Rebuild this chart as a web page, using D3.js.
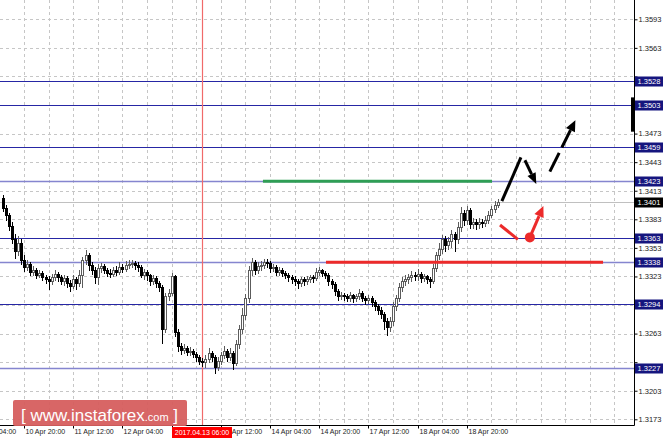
<!DOCTYPE html>
<html><head><meta charset="utf-8">
<script src="https://cdn.jsdelivr.net/npm/d3@7"></script>
<style>body{margin:0;background:#fff}svg{display:block}</style>
</head><body>
<svg id="c" width="664" height="440"></svg>
<script>
// ---------- DATA ----------
const firstOpen = 1.3405;
const closes = [
1.3395,1.3388,1.3376,1.3362,1.3350,1.3358,1.3340,1.3333,1.3336,1.3328,
1.3330,1.3325,1.3327,1.3322,1.3320,1.3318,1.3322,1.3326,1.3322,1.3318,
1.3321,1.3316,1.3313,1.3320,1.3316,1.3324,1.3340,1.3345,1.3335,1.3330,
1.3322,1.3332,1.3334,1.3330,1.3327,1.3326,1.3330,1.3328,1.3333,1.3331,
1.3335,1.3336,1.3337,1.3335,1.3333,1.3325,1.3328,1.3324,1.3318,1.3321,
1.3316,1.3312,1.3268,1.3302,1.3306,1.3323,1.3265,1.3250,1.3246,1.3248,
1.3244,1.3245,1.3242,1.3238,1.3234,1.3233,1.3236,1.3243,1.3238,1.3228,
1.3234,1.3240,1.3245,1.3238,1.3243,1.3232,1.3252,1.3268,1.3282,1.3300,
1.3330,1.3338,1.3330,1.3334,1.3335,1.3338,1.3337,1.3332,1.3333,1.3328,
1.3330,1.3327,1.3325,1.3322,1.3320,1.3318,1.3316,1.3320,1.3318,1.3320,
1.3322,1.3321,1.3328,1.3330,1.3327,1.3325,1.3318,1.3315,1.3308,1.3302,
1.3304,1.3302,1.3300,1.3303,1.3300,1.3302,1.3306,1.3300,1.3298,1.3300,
1.3296,1.3292,1.3288,1.3284,1.3276,1.3270,1.3276,1.3292,1.3300,1.3312,
1.3318,1.3320,1.3322,1.3325,1.3323,1.3326,1.3321,1.3323,1.3320,1.3318,
1.3332,1.3345,1.3352,1.3362,1.3356,1.3360,1.3368,1.3362,1.3375,1.3390,
1.3382,1.3393,1.3378,1.3380,1.3378,1.3380,1.3379,1.3382,1.3388,1.3394,
1.3398,1.3401];
const highs = [
1.3408,1.3398,1.3390,1.3380,1.3368,1.3365,1.3362,1.3345,1.3340,1.3338,
1.3334,1.3332,1.3330,1.3329,1.3325,1.3323,1.3326,1.3330,1.3328,1.3325,
1.3325,1.3323,1.3319,1.3324,1.3322,1.3330,1.3343,1.3351,1.3348,1.3338,
1.3333,1.3336,1.3337,1.3336,1.3332,1.3331,1.3333,1.3334,1.3338,1.3336,
1.3339,1.3340,1.3340,1.3339,1.3338,1.3335,1.3331,1.3330,1.3326,1.3325,
1.3323,1.3318,1.3314,1.3306,1.3310,1.3327,1.3325,1.3268,1.3253,1.3252,
1.3250,1.3249,1.3247,1.3244,1.3240,1.3237,1.3240,1.3248,1.3245,1.3240,
1.3238,1.3244,1.3250,1.3247,1.3248,1.3245,1.3256,1.3272,1.3290,1.3305,
1.3334,1.3342,1.3340,1.3338,1.3339,1.3341,1.3341,1.3339,1.3336,1.3335,
1.3333,1.3332,1.3329,1.3327,1.3325,1.3323,1.3320,1.3322,1.3322,1.3323,
1.3325,1.3324,1.3332,1.3333,1.3331,1.3329,1.3327,1.3320,1.3317,1.3310,
1.3307,1.3306,1.3305,1.3307,1.3305,1.3305,1.3310,1.3308,1.3302,1.3303,
1.3302,1.3298,1.3294,1.3291,1.3286,1.3279,1.3280,1.3296,1.3304,1.3316,
1.3322,1.3324,1.3326,1.3329,1.3328,1.3331,1.3328,1.3326,1.3325,1.3322,
1.3336,1.3349,1.3358,1.3366,1.3365,1.3364,1.3372,1.3370,1.3380,1.3396,
1.3393,1.3397,1.3395,1.3384,1.3383,1.3384,1.3383,1.3386,1.3392,1.3397,
1.3402,1.3404];
const lows = [
1.3392,1.3382,1.3372,1.3358,1.3342,1.3345,1.3336,1.3329,1.3330,1.3325,
1.3324,1.3321,1.3322,1.3319,1.3316,1.3310,1.3315,1.3319,1.3318,1.3315,
1.3314,1.3312,1.3308,1.3311,1.3310,1.3313,1.3312,1.3336,1.3330,1.3326,
1.3316,1.3315,1.3328,1.3327,1.3323,1.3322,1.3323,1.3325,1.3326,1.3328,
1.3329,1.3332,1.3333,1.3331,1.3329,1.3322,1.3320,1.3319,1.3314,1.3315,
1.3312,1.3308,1.3253,1.3265,1.3298,1.3303,1.3260,1.3245,1.3242,1.3243,
1.3240,1.3241,1.3238,1.3234,1.3231,1.3229,1.3228,1.3233,1.3234,1.3222,
1.3225,1.3231,1.3237,1.3234,1.3235,1.3226,1.3230,1.3248,1.3264,1.3278,
1.3296,1.3325,1.3326,1.3327,1.3330,1.3332,1.3333,1.3328,1.3329,1.3324,
1.3325,1.3323,1.3321,1.3318,1.3316,1.3314,1.3311,1.3313,1.3314,1.3315,
1.3317,1.3317,1.3319,1.3325,1.3323,1.3321,1.3314,1.3311,1.3303,1.3298,
1.3299,1.3298,1.3297,1.3297,1.3296,1.3297,1.3299,1.3297,1.3294,1.3295,
1.3292,1.3288,1.3284,1.3279,1.3268,1.3262,1.3266,1.3272,1.3288,1.3297,
1.3308,1.3314,1.3316,1.3318,1.3319,1.3319,1.3317,1.3318,1.3316,1.3312,
1.3316,1.3329,1.3341,1.3348,1.3350,1.3352,1.3354,1.3350,1.3358,1.3371,
1.3377,1.3378,1.3374,1.3374,1.3373,1.3374,1.3375,1.3376,1.3379,1.3385,
1.3391,1.3396];

const priceTicks = ["1.3173","1.3203","1.3233","1.3263","1.3293","1.3323","1.3353","1.3383",
                    "1.3413","1.3443","1.3473","1.3503","1.3533","1.3563","1.3593"];
const timeTickBars = [-9,7,23,39,55,71,87,103,119,135,151];
const timeTickLabels = ["10 Apr 04:00","10 Apr 20:00","11 Apr 12:00","12 Apr 04:00","12 Apr 20:00",
                        "13 Apr 12:00","14 Apr 04:00","14 Apr 20:00","17 Apr 12:00","18 Apr 04:00","18 Apr 20:00"];
const levels = [1.3528, 1.3503, 1.3459, 1.3423, 1.3363, 1.3338, 1.3294, 1.3227];
const softLevels = [1.3423, 1.3338, 1.3227];
const currentPrice = 1.3401;
const markerBar = 65;
const markerLabel = "2017.04.13 06:00";
// annotations in (bar index, price)
const greenSegment = [[84.7, 1.3423],[159.2, 1.3423]];
const redSegment = [[105.2, 1.3338],[195.3, 1.3338]];
const blackUp = [[162.4, 1.3402],[168.6, 1.3448]];
const blackDown = [[169.9, 1.3445],[173.6, 1.3420]];
const blackDashed = [[178.0, 1.3433],[186.3, 1.3487]];
const redDash = [[161.8, 1.3377],[167.6, 1.3362]];
const redDot = [171.5, 1.3364];
const redUp = [[171.5, 1.3364],[175.9, 1.3397]];

// ---------- SCALES ----------
const svg = d3.select("#c");
const plotRight = 634, plotBottom = 425;
const x = d3.scaleLinear().domain([0, 161]).range([2.5, 2.5 + 161 * 3.075]);
const y = d3.scaleLinear().domain([1.3173, 1.3593]).range([419.3, 19.3]);
const FONT = "Liberation Sans, Arial, sans-serif";

svg.append("rect").attr("width",664).attr("height",440).attr("fill","#fff");

svg.append("clipPath").attr("id","plot").append("rect")
  .attr("x",0).attr("y",0).attr("width",plotRight).attr("height",plotBottom);
const g = svg.append("g").attr("clip-path","url(#plot)");

// grid
const hy = v => Math.round(y(+v)) + 0.5;
g.selectAll(".hg").data(priceTicks).join("line")
  .attr("x1",0).attr("x2",plotRight).attr("y1",hy).attr("y2",hy)
  .attr("stroke","#c6c6c6").attr("stroke-dasharray","3,3").attr("stroke-width",1);
const vbars = d3.range(-1, 210, 8);
g.selectAll(".vg").data(vbars).join("line")
  .attr("y1",0).attr("y2",plotBottom)
  .attr("x1",d => Math.round(x(d)) + 0.5).attr("x2",d => Math.round(x(d)) + 0.5)
  .attr("stroke","#c6c6c6").attr("stroke-dasharray","3,3").attr("stroke-width",1);

// current price line
g.append("line").attr("x1",0).attr("x2",plotRight)
  .attr("y1",hy(currentPrice)).attr("y2",hy(currentPrice))
  .attr("stroke","#c0c0c0").attr("stroke-width",1);

// levels
g.selectAll(".lv").data(levels).join("line")
  .attr("x1",0).attr("x2",plotRight).attr("y1",hy).attr("y2",hy)
  .attr("stroke",d => softLevels.includes(d) ? "#8585cf" : "#2626a4")
  .attr("stroke-width",d => softLevels.includes(d) ? 1.5 : 1.2);

// red vertical marker
g.append("line").attr("x1",Math.round(x(markerBar)) + 0.5).attr("x2",Math.round(x(markerBar)) + 0.5)
  .attr("y1",0).attr("y2",plotBottom).attr("stroke","#f06a6a").attr("stroke-width",1.2);

// candles
const bars = closes.map((c,i) => ({i, o: i === 0 ? firstOpen : closes[i-1], c, h: highs[i], l: lows[i]}));
const cg = g.append("g");
bars.forEach(b => {
  const cx = Math.round(x(b.i));
  const bull = b.c >= b.o;
  const col = bull ? "#5c5c5c" : "#000";
  cg.append("line").attr("x1",cx + 0.5).attr("x2",cx + 0.5)
    .attr("y1",Math.round(y(b.h))).attr("y2",Math.round(y(b.l)) + 1)
    .attr("stroke",col).attr("stroke-width",1);
  const top = Math.round(y(Math.max(b.o,b.c)));
  const bot = Math.round(y(Math.min(b.o,b.c)));
  cg.append("rect").attr("x",cx - 0.5).attr("y",top + 0.5)
    .attr("width",2).attr("height",Math.max(0, bot - top))
    .attr("fill",bull ? "#fff" : "#000").attr("stroke",col).attr("stroke-width",1);
});

// annotations
function seg(pts, color, w, dash) {
  const l = g.append("line")
    .attr("x1",x(pts[0][0])).attr("y1",y(pts[0][1]))
    .attr("x2",x(pts[1][0])).attr("y2",y(pts[1][1]))
    .attr("stroke",color).attr("stroke-width",w).attr("stroke-linecap","butt");
  if (dash) l.attr("stroke-dasharray",dash);
  return l;
}
function arrow(pts, color, w, dash, hl, hw) {
  const x1 = x(pts[0][0]), y1 = y(pts[0][1]), x2 = x(pts[1][0]), y2 = y(pts[1][1]);
  const a = Math.atan2(y2 - y1, x2 - x1);
  const bx = x2 - hl * Math.cos(a), by = y2 - hl * Math.sin(a);
  const l = g.append("line").attr("x1",x1).attr("y1",y1).attr("x2",bx).attr("y2",by)
    .attr("stroke",color).attr("stroke-width",w);
  if (dash) l.attr("stroke-dasharray",dash);
  const px = -Math.sin(a) * hw / 2, py = Math.cos(a) * hw / 2;
  g.append("path").attr("d",`M${x2},${y2}L${bx+px},${by+py}L${bx-px},${by-py}Z`).attr("fill",color);
}
seg(greenSegment, "#2f9e55", 3);
seg(redSegment, "#ec2a2a", 3);
seg(blackUp, "#000", 3);
arrow(blackDown, "#000", 3, null, 11, 9);
arrow(blackDashed, "#000", 3, "21,6", 11, 10);
seg(redDash, "#ec2a2a", 3);
arrow(redUp, "#ec2a2a", 3, null, 11, 10);
g.append("circle").attr("cx",x(redDot[0])).attr("cy",y(redDot[1])).attr("r",5).attr("fill","#ec2a2a");

// right-edge bar
svg.append("rect").attr("x",631).attr("y",y(1.3511)).attr("width",3).attr("height",y(1.3475) - y(1.3511)).attr("fill","#000");

// axes
const boxYs = levels.concat([currentPrice]).map(v => y(v));
const hiddenTick = v => boxYs.some(by => Math.abs(by - y(v)) < 6.5);
const yAxis = d3.axisRight(y).tickValues(priceTicks.map(Number)).tickSize(3)
  .tickFormat((d,i) => hiddenTick(d) ? "" : priceTicks[i]);
const ya = svg.append("g").attr("transform",`translate(${plotRight + 0.5},0)`).call(yAxis);
ya.select(".domain").remove();
ya.selectAll("line").attr("stroke","#000");
ya.selectAll("text").attr("x",4).attr("font-family",FONT).attr("font-size",7.5).attr("fill","#222");
svg.append("line").attr("x1",plotRight + 0.5).attr("x2",plotRight + 0.5).attr("y1",0).attr("y2",plotBottom + 0.5)
  .attr("stroke","#000");

const xAxis = d3.axisBottom(x).tickValues(timeTickBars).tickSize(3)
  .tickFormat((d,i) => Math.abs(d - markerBar) < 11 ? "" : timeTickLabels[i]);
const xa = svg.append("g").attr("transform",`translate(0,${plotBottom + 0.5})`).call(xAxis);
xa.select(".domain").remove();
xa.selectAll(".tick").attr("transform",d => `translate(${Math.round(x(d)) + 0.5},0)`);
xa.selectAll("line").attr("stroke","#000");
xa.selectAll("text").attr("text-anchor","start").attr("x",1).attr("y",3).attr("dy","0.72em")
  .attr("font-family",FONT).attr("font-size",7).attr("fill","#222");
svg.append("line").attr("x1",0).attr("x2",plotRight + 0.5).attr("y1",plotBottom + 0.5).attr("y2",plotBottom + 0.5)
  .attr("stroke","#000");

// partially covered "13 Apr 12:00" label: only the part right of the marker box shows
const mx = Math.round(x(markerBar));
svg.append("clipPath").attr("id","afterBox").append("rect")
  .attr("x",mx + 30).attr("y",plotBottom).attr("width",60).attr("height",15);
svg.append("text").attr("clip-path","url(#afterBox)")
  .attr("x",Math.round(x(71)) + 1.5).attr("y",plotBottom + 3.5).attr("dy","0.72em")
  .attr("font-family",FONT).attr("font-size",7).attr("fill","#222").text(timeTickLabels[5]);

// level price boxes
function priceBox(v, fill) {
  const cy = Math.round(y(v)) + 0.5;
  svg.append("rect").attr("x",plotRight + 1).attr("y",cy - 5).attr("width",28).attr("height",10).attr("fill",fill);
  svg.append("text").attr("x",plotRight + 3.5).attr("y",cy).attr("dy","0.35em")
    .attr("font-family",FONT).attr("font-size",7.5).attr("fill","#fff")
    .text(d3.format(".4f")(v));
}
levels.forEach(v => priceBox(v, "#15157e"));
priceBox(currentPrice, "#000");

// time marker box
svg.append("rect").attr("x",mx - 30).attr("y",plotBottom + 2).attr("width",60).attr("height",11).attr("fill","#ff0000");
svg.append("text").attr("x",mx).attr("y",plotBottom + 7.5).attr("dy","0.35em").attr("text-anchor","middle")
  .attr("font-family",FONT).attr("font-size",7).attr("fill","#fff").text(markerLabel);

// watermark
svg.append("rect").attr("x",13).attr("y",400).attr("width",174).attr("height",26).attr("rx",2)
  .attr("fill","#d65e5e").attr("opacity",0.95);
const wt = svg.append("text").attr("x",21).attr("y",421).attr("fill","#fff").attr("font-family",FONT);
wt.append("tspan").attr("font-size",17).text("[ ");
wt.append("tspan").attr("font-size",17).text("www.instaforex");
wt.append("tspan").attr("font-size",11).text(".com");
wt.append("tspan").attr("font-size",17).text(" ]");
</script>
</body></html>
